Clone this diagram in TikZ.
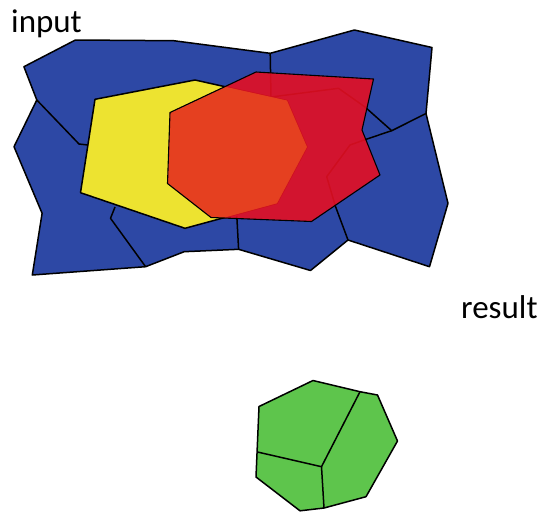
\documentclass[tikz,border=0pt]{standalone}
\usepackage{fontspec}
\setmainfont{Carlito}
\definecolor{tblue}{RGB}{45,72,165}
\definecolor{tyellow}{RGB}{237,227,48}
\definecolor{tred}{RGB}{229,15,35}
\definecolor{torange}{RGB}{230,68,32}
\definecolor{tgreen}{RGB}{94,197,76}
\begin{document}
\begin{tikzpicture}[x=1pt,y=-1pt,
  edge/.style={line width=1.5pt, line join=round, draw=black},
  lbl/.style={anchor=base west, inner sep=0pt, font=\fontsize{33}{33}\selectfont}]
\useasboundingbox (0,0) rectangle (548,512);
\fill[white] (0,0) rectangle (548,512);
% blue tiles
\filldraw[fill=tblue, edge] (23.9,66.7) -- (75.4,40) -- (173.7,40.7) -- (270.2,53.3) -- (354.4,30) -- (432,47.5) -- (426,113.5) -- (448,203.3) -- (429.5,266.7) -- (348,240) -- (310.5,270.5) -- (238.6,249.3) -- (184.2,251.7) -- (145.6,266.7) -- (32.3,275) -- (42.1,213.3) -- (14,146.7) -- (36.8,100) -- cycle;
\draw[edge] (36.8,100) -- (79,144) -- (88,145);
\draw[edge] (145.6,266.7) -- (110.5,218.3) -- (115,207);
\draw[edge] (238.6,249.3) -- (236.8,216);
\draw[edge] (270.2,53.3) -- (271,97) -- (338.5,88.3) -- (365,107) -- (391.7,130.7) -- (426,113.5);
\draw[edge] (391.7,130.7) -- (366,139.3) -- (350,145) -- (326.7,176.7) -- (335.5,206.5) -- (348,240);
% yellow
\filldraw[fill=tyellow, edge] (95,99.3) -- (195,80) -- (287,100.5) -- (307,147) -- (277,203.3) -- (185,228.3) -- (80.5,192.7) -- cycle;
% red
\fill[tred, fill opacity=0.9] (256,72) -- (373.5,79) -- (362,130) -- (380,175) -- (311.5,221.5) -- (211,217.5) -- (167.5,183.5) -- (170,112.5) -- cycle;
\begin{scope}
  \clip (95,99.3) -- (195,80) -- (287,100.5) -- (307,147) -- (277,203.3) -- (185,228.3) -- (80.5,192.7) -- cycle;
  \fill[torange, fill opacity=0.9] (256,72) -- (373.5,79) -- (362,130) -- (380,175) -- (311.5,221.5) -- (211,217.5) -- (167.5,183.5) -- (170,112.5) -- cycle;
\end{scope}
\draw[edge, line width=1.1pt] (256,72) -- (373.5,79) -- (362,130) -- (380,175) -- (311.5,221.5) -- (211,217.5) -- (167.5,183.5) -- (170,112.5) -- cycle;
% green result
\filldraw[fill=tgreen, edge] (259,406.5) -- (313,380.5) -- (360,391.7) -- (377.5,395) -- (397.5,441) -- (366,496.7) -- (324,508) -- (300,510.8) -- (256,477) -- cycle;
\draw[edge] (360,391.7) -- (321.5,466.7) -- (257.5,452);
\draw[edge] (321.5,466.7) -- (324,508);
% labels
\node[lbl] (input) at (11,32) {input};
\node[lbl] (result) at (461,318.5) {result};
\end{tikzpicture}
\end{document}
